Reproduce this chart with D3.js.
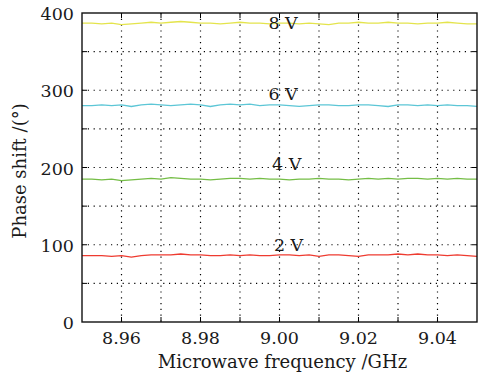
<!DOCTYPE html>
<html>
<head>
<meta charset="utf-8">
<script src="https://cdn.jsdelivr.net/npm/d3@7"></script>
<style>
  body { margin: 0; background: #fff; }
  svg text { font-family: "DejaVu Serif", "Liberation Serif", serif; fill: #1a1a1a; }
</style>
</head>
<body>
<svg id="chart" width="486" height="374"></svg>
<script>
// sampled every 0.0025 GHz from 8.95 to 9.05
const freqStart = 8.95, freqStep = 0.0025;
const v8 = [387,387,386,387,385,386,387,388,387,388,389,388,387,387,386,387,388,387,387,386,387,387,386,387,386,385,387,387,388,387,387,388,387,387,386,387,387,388,387,386,386];
const v6 = [280,280,281,280,281,279,281,282,281,280,281,282,281,279,281,282,281,282,280,281,281,280,279,280,281,281,280,280,281,281,280,279,281,281,280,281,280,281,280,280,279];
const v4 = [185,185,184,185,183,184,185,186,185,187,186,185,185,184,185,186,186,185,186,185,185,184,185,185,186,185,185,184,185,186,185,186,185,186,186,185,186,185,186,185,185];
const v2 = [86,86,86,85,86,84,86,87,87,87,88,87,87,86,86,87,86,87,86,86,87,87,86,87,85,87,87,86,85,87,87,87,88,87,88,87,87,86,87,86,85];
const seriesNames = ["8 V", "6 V", "4 V", "2 V"];
const seriesColors = ["#e4e44c", "#5cc6d6", "#74bd45", "#ee3b30"];
const xTickLabels = [8.96, 8.98, 9.00, 9.02, 9.04];
const yTickLabels = [0, 100, 200, 300, 400];

const svg = d3.select("#chart");
const pL = 82, pR = 477, pT = 13, pB = 322;

const x = d3.scaleLinear().domain([8.95, 9.05]).range([pL, pR]);
const y = d3.scaleLinear().domain([0, 400]).range([pB, pT]);

const xGrid = d3.range(8.96, 9.045, 0.01);
const yGrid = d3.range(50, 400, 50);

// dotted grid
svg.append("g").selectAll("line").data(xGrid).join("line")
  .attr("x1", d => x(d)).attr("x2", d => x(d))
  .attr("y1", pT).attr("y2", pB)
  .attr("stroke", "#000").attr("stroke-width", 1.2)
  .attr("stroke-dasharray", "1.2,4.6");
svg.append("g").selectAll("line").data(yGrid).join("line")
  .attr("x1", pL).attr("x2", pR)
  .attr("y1", d => y(d)).attr("y2", d => y(d))
  .attr("stroke", "#000").attr("stroke-width", 1.2)
  .attr("stroke-dasharray", "1.2,4.6");

// inner ticks on all four sides
const tk = 5;
const ticks = svg.append("g").attr("stroke", "#000").attr("stroke-width", 1);
xGrid.forEach(d => {
  ticks.append("line").attr("x1", x(d)).attr("x2", x(d)).attr("y1", pB).attr("y2", pB - tk);
  ticks.append("line").attr("x1", x(d)).attr("x2", x(d)).attr("y1", pT).attr("y2", pT + tk);
});
yGrid.forEach(d => {
  ticks.append("line").attr("x1", pL).attr("x2", pL + tk).attr("y1", y(d)).attr("y2", y(d));
  ticks.append("line").attr("x1", pR).attr("x2", pR - tk).attr("y1", y(d)).attr("y2", y(d));
});

// data lines
const allSeries = [v8, v6, v4, v2];
const line = d3.line()
  .x((d, i) => x(freqStart + i * freqStep))
  .y(d => y(d));
allSeries.forEach((vals, k) => {
  svg.append("path").datum(vals)
    .attr("fill", "none")
    .attr("stroke", seriesColors[k])
    .attr("stroke-width", 1.3)
    .attr("d", line);
});

// frame
svg.append("rect")
  .attr("x", pL).attr("y", pT)
  .attr("width", pR - pL).attr("height", pB - pT)
  .attr("fill", "none").attr("stroke", "#111").attr("stroke-width", 1.4);

// tick labels
svg.append("g").selectAll("text").data(xTickLabels).join("text")
  .attr("x", d => x(d)).attr("y", pB + 22)
  .attr("text-anchor", "middle").attr("font-size", 17.5)
  .text(d => d.toFixed(2));
svg.append("g").selectAll("text").data(yTickLabels).join("text")
  .attr("x", pL - 8).attr("y", d => y(d) + 7)
  .attr("text-anchor", "end").attr("font-size", 17.5)
  .text(d => d);

// series labels
const labelPos = [[9.0009, 379], [9.0009, 287.5], [9.0018, 197], [9.0023, 92.5]];
seriesNames.forEach((n, k) => {
  svg.append("text")
    .attr("x", x(labelPos[k][0])).attr("y", y(labelPos[k][1]))
    .attr("text-anchor", "middle").attr("font-size", 17.5)
    .text(n);
});

// axis titles
svg.append("text")
  .attr("x", 282.5).attr("y", 368)
  .attr("text-anchor", "middle").attr("font-size", 18)
  .text("Microwave frequency /GHz");
svg.append("text")
  .attr("transform", `translate(26,171) rotate(-90)`)
  .attr("text-anchor", "middle").attr("font-size", 18)
  .text("Phase shift /(°)");
</script>
</body>
</html>
